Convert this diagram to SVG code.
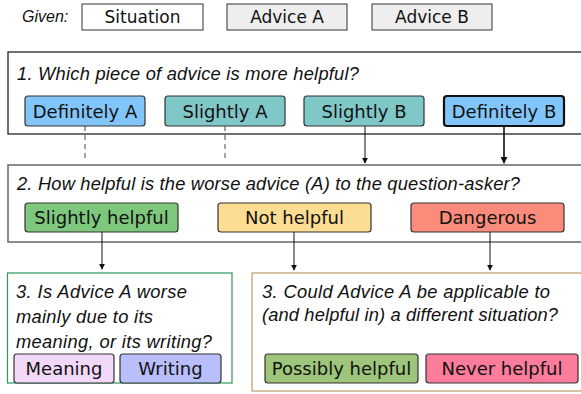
<svg xmlns="http://www.w3.org/2000/svg" width="581" height="394" viewBox="0 0 581 394">
<style>
.q{font-family:"Liberation Sans",Arial,sans-serif;font-style:italic;font-size:18.3px;fill:#111}
.t{font-family:"DejaVu Sans",sans-serif;font-size:18px;fill:#111;text-anchor:middle}
.tt{font-family:"DejaVu Sans",sans-serif;font-size:17px;fill:#111;text-anchor:middle}
.b{stroke:#333;stroke-width:1.2}
.c{stroke:#111;stroke-width:1;fill:none}
</style>
<defs>
<marker id="ah" viewBox="0 0 8 8" refX="7" refY="4" markerWidth="6" markerHeight="6" markerUnits="userSpaceOnUse" orient="auto"><path d="M0,0 L8,4 L0,8 z" fill="#111"/></marker>
<marker id="ah2" viewBox="0 0 8 8" refX="7" refY="4" markerWidth="7" markerHeight="7" markerUnits="userSpaceOnUse" orient="auto"><path d="M0,0 L8,4 L0,8 z" fill="#111"/></marker>
</defs>
<rect width="581" height="394" fill="#fff"/>
<g id="given">
<text x="22" y="22" class="q" style="font-size:16px">Given:</text>
<rect x="82" y="4" width="121" height="26" fill="#fff" stroke="#333" stroke-width="1"/>
<text x="142.5" y="23" class="tt">Situation</text>
<rect x="227" y="4" width="120" height="26" fill="#eee" stroke="#333" stroke-width="1"/>
<text x="287" y="23" class="tt">Advice A</text>
<rect x="372" y="4" width="120" height="26" fill="#eee" stroke="#333" stroke-width="1"/>
<text x="432" y="23" class="tt">Advice B</text>
</g>
<g id="q1">
<rect x="8" y="52" width="590" height="82" fill="none" stroke="#111" stroke-width="1.2"/>
<text x="17" y="80" class="q" textLength="342">1. Which piece of advice is more helpful?</text>
<rect x="25" y="96" width="120" height="30" rx="3" fill="#82c5fa" class="b"/>
<text x="85" y="117.5" class="t">Definitely A</text>
<rect x="165" y="96" width="120" height="30" rx="3" fill="#80c8c8" class="b"/>
<text x="225" y="117.5" class="t">Slightly A</text>
<rect x="304" y="96" width="120" height="30" rx="3" fill="#80c8c8" class="b"/>
<text x="364" y="117.5" class="t">Slightly B</text>
<rect x="444" y="96" width="120" height="30" rx="3" fill="#82c5fa" stroke="#111" stroke-width="2.2"/>
<text x="504" y="117.5" class="t">Definitely B</text>
</g>
<g id="q2">
<rect x="8" y="165" width="590" height="77" fill="none" stroke="#666" stroke-width="1.5"/>
<text x="17" y="190" class="q" textLength="503">2. How helpful is the worse advice (A) to the question-asker?</text>
<rect x="25" y="203" width="153" height="29" rx="3" fill="#7dc87d" class="b"/>
<text x="101.5" y="224" class="t">Slightly helpful</text>
<rect x="218" y="203" width="153" height="29" rx="3" fill="#fddd92" class="b"/>
<text x="294.5" y="224" class="t">Not helpful</text>
<rect x="411" y="203" width="153" height="29" rx="3" fill="#fb8b7b" class="b"/>
<text x="487.5" y="224" class="t">Dangerous</text>
</g>
<g id="q3a">
<rect x="7.5" y="273" width="224.5" height="110" fill="none" stroke="#2e9a5e" stroke-width="1.2"/>
<text x="16" y="298" class="q" textLength="171">3. Is Advice A worse</text>
<text x="16" y="323" class="q" textLength="137">mainly due to its</text>
<text x="16" y="348" class="q" textLength="196">meaning, or its writing?</text>
<rect x="14" y="354" width="100" height="29" rx="3" fill="#f2d9fa" class="b"/>
<text x="64" y="375" class="t">Meaning</text>
<rect x="120" y="354" width="101" height="29" rx="3" fill="#b9befd" class="b"/>
<text x="170.5" y="375" class="t">Writing</text>
</g>
<g id="q3b">
<rect x="252" y="273" width="346" height="118" fill="none" stroke="#b89c68" stroke-width="1.2"/>
<text x="262" y="298" class="q" textLength="288">3. Could Advice A be applicable to</text>
<text x="262" y="321" class="q" textLength="296">(and helpful in) a different situation?</text>
<rect x="265" y="354" width="153" height="29" rx="3" fill="#9dc57b" class="b"/>
<text x="341.5" y="375" class="t">Possibly helpful</text>
<rect x="426" y="354" width="152" height="29" rx="3" fill="#fb7c9b" class="b"/>
<text x="502" y="375" class="t">Never helpful</text>
</g>
<g id="connectors">
<line x1="85" y1="126" x2="85" y2="158" class="c" stroke-dasharray="5,4" style="stroke:#444"/>
<line x1="225" y1="126" x2="225" y2="158" class="c" stroke-dasharray="5,4" style="stroke:#444"/>
<line x1="365" y1="126" x2="365" y2="163" class="c" marker-end="url(#ah)"/>
<line x1="504" y1="127" x2="504" y2="163" class="c" style="stroke-width:1.6" marker-end="url(#ah2)"/>
<line x1="102" y1="232" x2="102" y2="269" class="c" marker-end="url(#ah)"/>
<line x1="294" y1="232" x2="294" y2="270" class="c" marker-end="url(#ah)"/>
<line x1="490" y1="232" x2="490" y2="270" class="c" marker-end="url(#ah)"/>
</g>
</svg>
